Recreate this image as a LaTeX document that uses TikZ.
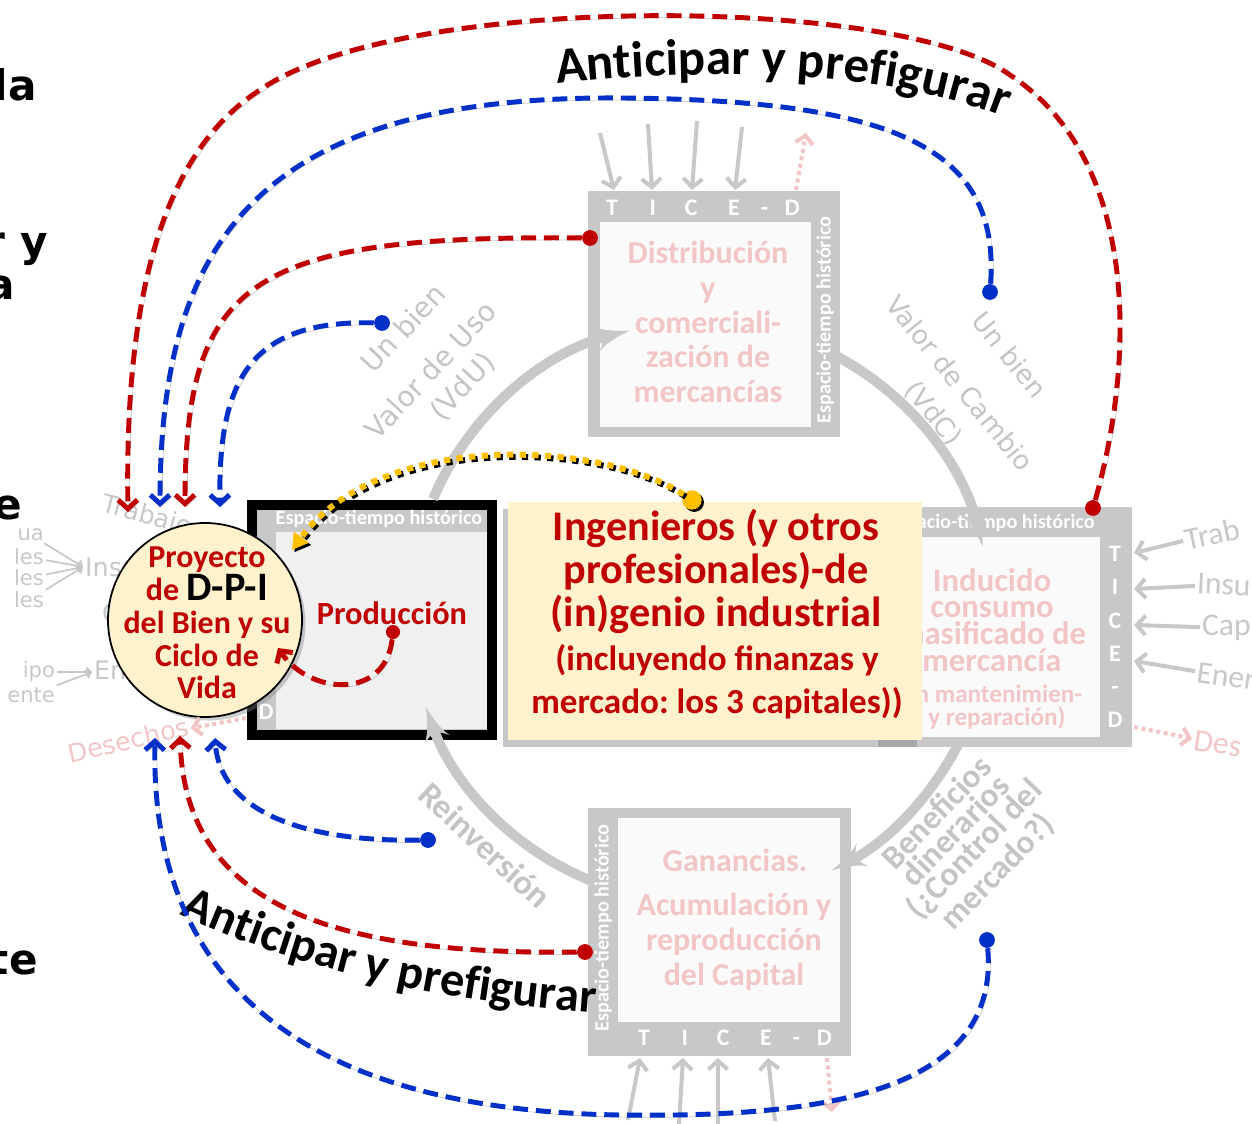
\documentclass[tikz,border=0pt]{standalone}
\usepackage{fontspec}
\setmainfont{Carlito}
\newfontfamily\verd{DejaVu Sans}
\usetikzlibrary{arrows,arrows.meta,shadows,decorations.text}

\definecolor{dred}{RGB}{192,0,0}
\definecolor{lgrey}{RGB}{200,200,200}
\definecolor{ngrey}{RGB}{196,196,196}
\definecolor{pinkt}{RGB}{242,198,198}
\definecolor{lblue}{RGB}{0,48,200}
\definecolor{cream}{RGB}{255,242,204}
\definecolor{gold}{RGB}{255,192,0}

\newcommand\ticed{T\hspace{18pt}I\hspace{16.5pt}C\hspace{17.5pt}E\hspace{12pt}-\hspace{9.5pt}D}
\newcommand\antic{\bfseries\fontsize{29}{29}\selectfont}
\newcommand\anticb{\bfseries\fontsize{27.5}{27.5}\selectfont}
\frenchspacing

\begin{document}
\begin{tikzpicture}[x=0.02cm,y=-0.02cm]

\tikzset{frame/.style = {fill=lgrey,inner sep=0}}
\tikzset{panel/.style = {fill=white!98!black,inner sep=0}}
\tikzset{faded/.style = {text=pinkt,align=center,font=\bfseries\fontsize{18.2}{19.8}\selectfont}}
\tikzset{strip/.style = {text=white,inner sep=0,font=\bfseries\fontsize{11.5}{11.5}\selectfont}}
\tikzset{tice/.style = {text=white,inner sep=0,align=center,font=\bfseries\fontsize{13.5}{18.9}\selectfont}}
\tikzset{note/.style = {text=ngrey,font=\verd\fontsize{16}{20}\selectfont}}
\tikzset{side/.style = {text=lgrey,inner sep=1pt,font=\verd\fontsize{14.5}{14.5}\selectfont}}
\tikzset{tiny/.style = {text=lgrey,inner sep=1pt,anchor=east,font=\verd\fontsize{12}{12}\selectfont}}
\tikzset{rside/.style = {text=lgrey,inner sep=1pt,anchor=west,font=\fontsize{18}{18}\selectfont}}
\tikzset{cut/.style = {anchor=base east,inner sep=0,font=\verd\bfseries\fontsize{24}{24}\selectfont}}
\tikzset{dot/.style = {circle,fill,inner sep=0,minimum size=9pt}}
\tikzset{ring/.style = {draw=lgrey,line width=5.7pt,-latex'}}
\tikzset{feed/.style = {draw=lgrey,line width=2.3pt,-{Straight Barb[length=5pt,width=11pt]}}}
\tikzset{thin/.style = {draw=lgrey,line width=1pt,-{Straight Barb[length=2.5pt,width=5pt]}}}
\tikzset{waste/.style = {draw=pinkt,line width=2.3pt,dotted,-{Straight Barb[length=4.5pt,width=10pt]}}}
\tikzset{link/.style = {line width=2.8pt,dash pattern=on 8.5pt off 4.5pt,-{Straight Barb[length=5pt,width=11pt]},
  preaction={draw=black!40,opacity=.5,transform canvas={xshift=1.2pt,yshift=-1.2pt}}}}

\useasboundingbox (0,0) rectangle (1252,1124);

%cut words at the left edge
\node[cut] (la) at (37,101) {la};
\node[cut] (ry) at (48,257) {r y};
\node[cut] (a) at (15,300) {a};
\node[cut] (e) at (22,520) {e};
\node[cut] (te) at (38,975) {te};

%grey labels
\node[note,rotate=47] (ub1) at (403,328) {Un bien};
\node[note,rotate=47] (vdu) at (430,370) {Valor de Uso};
\node[note,rotate=47] (vdu2) at (463,387) {(VdU)};
\node[note,rotate=-51,font=\verd\fontsize{15}{20}\selectfont] (ub2) at (1010,355) {Un bien};
\node[note,rotate=-51,font=\verd\fontsize{15}{20}\selectfont] (vdc) at (960,383) {Valor de Cambio};
\node[note,rotate=-51,font=\verd\fontsize{15}{20}\selectfont] (vdc2) at (933,414) {(VdC)};
\node[text=ngrey,rotate=-43,font=\bfseries\fontsize{19.5}{20}\selectfont] (rein) at (485,845) {Reinversión};
\node[text=ngrey,rotate=46,align=center,font=\bfseries\fontsize{19}{14.8}\selectfont] (benef) at (968,843)
  {Beneficios\\dinerarios\\(¿Control del\\mercado?)};

%left inputs
\node[side,rotate=-15] (trabl) at (147,517) {Trabajo};
\node[side,anchor=west] (insl) at (83,567) {Insumos};
\node[side,anchor=west] (capl) at (100,615) {Capital};
\node[side,anchor=west] (enel) at (92,672) {Energía};
\node[side,text=pinkt,rotate=13] (desl) at (128,740) {Desechos};
\node[tiny] (ua) at (46,535) {ua};
\node[tiny] (les1) at (46,557) {les};
\node[tiny] (les2) at (46,578) {les};
\node[tiny] (les3) at (46,600) {les};
\node[tiny] (ipo) at (57,672) {ipo};
\node[tiny] (ente) at (57,695) {ente};
\draw[thin] (ua) -- (insl.west);
\draw[thin] (les1) -- (insl.west);
\draw[thin] (les2) -- (insl.west);
\draw[thin] (les3) -- (insl.west);
\draw[thin] (ipo) -- (enel.west);
\draw[thin] (ente) -- (enel.west);

%right inputs
\node[rside,rotate=12] (trab) at (1183,540) {Trab};
\node[rside,rotate=-3] (insu) at (1195,583) {Insu};
\node[rside] (cap) at (1200,628) {Cap};
\node[rside,rotate=-8] (ener) at (1195,672) {Ener};
\node[rside,rotate=-8,text=pinkt] (des) at (1192,740) {Des};

%distribution box
\node[frame,minimum width=252*0.02cm,minimum height=246*0.02cm] (dist) at (714,314) {};
\node[panel,minimum width=211*0.02cm,minimum height=205*0.02cm] (distin) at (705.5,324.5) {};
\node[faded] (disttxt) at (708,322) {Distribución\\y\\comerciali-\\zación de\\mercancías};
\node[tice] (distt) at (703,208) {\ticed};
\node[strip,rotate=90] (dists) at (825,320) {Espacio-tiempo histórico};

%consumption box
\node[frame,minimum width=254*0.02cm,minimum height=240*0.02cm] (cons) at (1005,627) {};
\node[panel,minimum width=212*0.02cm,minimum height=200*0.02cm] (consin) at (994,637) {};
\node[faded,font=\bfseries\fontsize{18.6}{15.3}\selectfont] (constxt) at (992,620) {Inducido\\consumo\\masificado de\\mercancía};
\node[faded,font=\bfseries\fontsize{14.3}{13}\selectfont] (constxt2) at (983,707) {(con mantenimien-\\to y reparación)};
\node[tice] (const) at (1115,637) {T\\I\\C\\E\\-\\D};
\node[strip,anchor=east] (conss) at (1095,523) {Espacio-tiempo histórico};

%profit box
\node[frame,minimum width=263*0.02cm,minimum height=248*0.02cm] (gan) at (719.5,932) {};
\node[panel,minimum width=222*0.02cm,minimum height=204*0.02cm] (ganin) at (729,920) {};
\node[faded] (gantxt) at (735,860) {Ganancias.};
\node[faded] (gantxt2) at (734,942) {Acumulación y\\reproducción\\del Capital};
\node[tice] (gant) at (735,1038) {\ticed};
\node[strip,rotate=90] (gans) at (603,928) {Espacio-tiempo histórico};

%production box
\node[draw=black,line width=5.7pt,fill=lgrey,minimum width=240*0.02cm,minimum height=230*0.02cm,inner sep=0] (prod) at (372,620) {};
\node[fill=white!94!black,minimum width=211*0.02cm,minimum height=197*0.02cm,inner sep=0] (prodin) at (381.5,630.5) {};
\node[strip] (prods) at (379,519) {Espacio-tiempo histórico};
\node[tice] (prodd) at (266,712) {D};
\node[text=dred,font=\bfseries\fontsize{18.4}{20}\selectfont] (prodtxt) at (392,613) {Producción};

%cycle
\coordinate (r1a) at (433,499);
\coordinate (r1b) at (629.8,330.6);
\coordinate (r2a) at (836.2,356);
\coordinate (r2b) at (982.6,546.8);
\coordinate (r3a) at (958.4,743.7);
\coordinate (r3b) at (831.7,870.4);
\coordinate (r4a) at (591.4,880.9);
\coordinate (r4b) at (425.8,706.4);
\draw[ring] (r1a) .. controls (468.6,415.2) and (541.5,352.6) .. (r1b);
\draw[ring] (r2a) .. controls (910.3,395.4) and (963.7,465) .. (r2b);
\draw[ring] (r3a) .. controls (930.6,798.2) and (886.2,842.6) .. (r3b);
\draw[ring] (r4a) .. controls (513.6,849.5) and (453.1,785.7) .. (r4b);

%engineers
\node[fill=cream,minimum width=414*0.02cm,minimum height=238*0.02cm,
  drop shadow={shadow xshift=-3pt,shadow yshift=-4pt,opacity=.45}] (ing) at (715,621) {};
\node[text=dred,align=center,font=\bfseries\fontsize{24}{24.5}\selectfont] (ingtxt) at (716,571)
  {Ingenieros (y otros\\profesionales)-de\\(in)genio industrial};
\node[text=dred,align=center,font=\bfseries\fontsize{20}{24.5}\selectfont] (ingtxt2) at (717,682)
  {(incluyendo finanzas y\\mercado: los 3 capitales))};

%project
\node[circle,draw=black,line width=1pt,fill=cream,minimum size=194*0.02cm,
  drop shadow={shadow xshift=2pt,shadow yshift=-2pt,opacity=.4}] (dpi) at (205,620) {};
\node[text=dred,align=center,font=\bfseries\fontsize{18.2}{18.7}\selectfont] (dpitxt) at (207,623)
  {Proyecto\\de {\color{black}\fontsize{23}{18.7}\selectfont D-P-I}\\del Bien y su\\Ciclo de\\Vida};

%feeds and wastes
\coordinate (f1) at (600,133); \coordinate (f1e) at (614,190);
\coordinate (f2) at (648,124); \coordinate (f2e) at (652,190);
\coordinate (f3) at (697,121); \coordinate (f3e) at (692,190);
\coordinate (f4) at (742,127); \coordinate (f4e) at (735,190);
\draw[feed] (f1) -- (f1e);
\draw[feed] (f2) -- (f2e);
\draw[feed] (f3) -- (f3e);
\draw[feed] (f4) -- (f4e);
\coordinate (g1) at (628,1120); \coordinate (g1e) at (640,1058);
\coordinate (g2) at (679,1124); \coordinate (g2e) at (683,1058);
\coordinate (g3) at (718,1124); \coordinate (g3e) at (718,1058);
\coordinate (g4) at (775,1121); \coordinate (g4e) at (768,1058);
\draw[feed] (g1) -- (g1e);
\draw[feed] (g2) -- (g2e);
\draw[feed] (g3) -- (g3e);
\draw[feed] (g4) -- (g4e);
\coordinate (c1) at (1134,553);
\coordinate (c2) at (1134,589);
\coordinate (c3) at (1134,625);
\coordinate (c4) at (1134,661);
\draw[feed] (trab) -- (c1);
\draw[feed] (insu) -- (c2);
\draw[feed] (cap) -- (c3);
\draw[feed] (ener) -- (c4);
\coordinate (w1) at (796,190); \coordinate (w1e) at (806,133);
\coordinate (w2) at (1134,727);
\coordinate (w3) at (827,1058); \coordinate (w3e) at (832,1112);
\coordinate (w4) at (246,718);
\draw[waste] (w1) -- (w1e);
\draw[waste] (w2) -- (des);
\draw[waste] (w3) -- (w3e);
\draw[waste] (w4) -- (desl);

%anticipate
\coordinate (ta0) at (557,84);
\coordinate (ta1) at (1025,126);
\path[decorate,decoration={text along path,text={|\antic|Anticipar y prefigurar}}]
  (ta0) .. controls (720,66) and (905,70) .. (ta1);
\coordinate (tb0) at (180,914);
\coordinate (tb1) at (640,1016);
\path[decorate,decoration={text along path,text={|\anticb|Anticipar y prefigurar}}]
  (tb0) .. controls (280,962) and (435,1006) .. (tb1);

%dots
\node[dot,dred] (rd1) at (1093,508) {};
\node[dot,lblue] (bd1) at (990,292) {};
\node[dot,dred] (rd2) at (590,238) {};
\node[dot,lblue] (bd2) at (382,323) {};
\node[dot,lblue] (bd3) at (428,840) {};
\node[dot,dred] (rd3) at (585,952) {};
\node[dot,lblue] (bd4) at (987,940) {};
\node[dot,dred,minimum size=8pt] (pd) at (393,632) {};
\node[dot,gold,minimum size=11pt,drop shadow={shadow xshift=1.3pt,shadow yshift=-1.3pt,fill=black,opacity=1}] (gd) at (692,500) {};

%arrow ends
\coordinate (r1e) at (128,512);
\coordinate (b1e) at (160,507);
\coordinate (r2e) at (185,507);
\coordinate (b2e) at (220,507);
\coordinate (b4e) at (155,738);
\coordinate (r3e) at (180,736);
\coordinate (b3e) at (215,738);
\coordinate (pe) at (278,648);
\coordinate (ge) at (292,550);

%links
\draw[link,dred] (rd1) .. controls (1135,360) and (1140,160) .. (1010,75) .. controls (900,-5) and (400,-8) .. (260,90)
  .. controls (150,160) and (125,330) .. (r1e);
\draw[link,lblue] (bd1) .. controls (1000,150) and (900,100) .. (620,98) .. controls (250,95) and (160,250) .. (b1e);
\draw[link,dred] (rd2) .. controls (250,235) and (185,280) .. (r2e);
\draw[link,lblue] (bd2) .. controls (250,320) and (218,380) .. (b2e);
\draw[link,lblue] (bd3) .. controls (300,842) and (220,810) .. (b3e);
\draw[link,dred] (rd3) .. controls (330,955) and (185,905) .. (r3e);
\draw[link,lblue] (bd4) .. controls (1000,1090) and (830,1118) .. (620,1115) .. controls (300,1110) and (150,980) .. (b4e);
\draw[link,dred] (pd) .. controls (385,700) and (310,695) .. (pe);
\draw[line width=3.4pt,black,dash pattern=on 3.6pt off 3.6pt,-{Triangle[length=9pt,width=10pt]},transform canvas={xshift=1.3pt,yshift=-1.3pt}]
  (gd) .. controls (600,440) and (380,430) .. (ge);
\draw[line width=3.4pt,gold,dash pattern=on 3.6pt off 3.6pt,-{Triangle[length=9pt,width=10pt]}] (gd) .. controls (600,440) and (380,430) .. (ge);

\end{tikzpicture}
\end{document}
